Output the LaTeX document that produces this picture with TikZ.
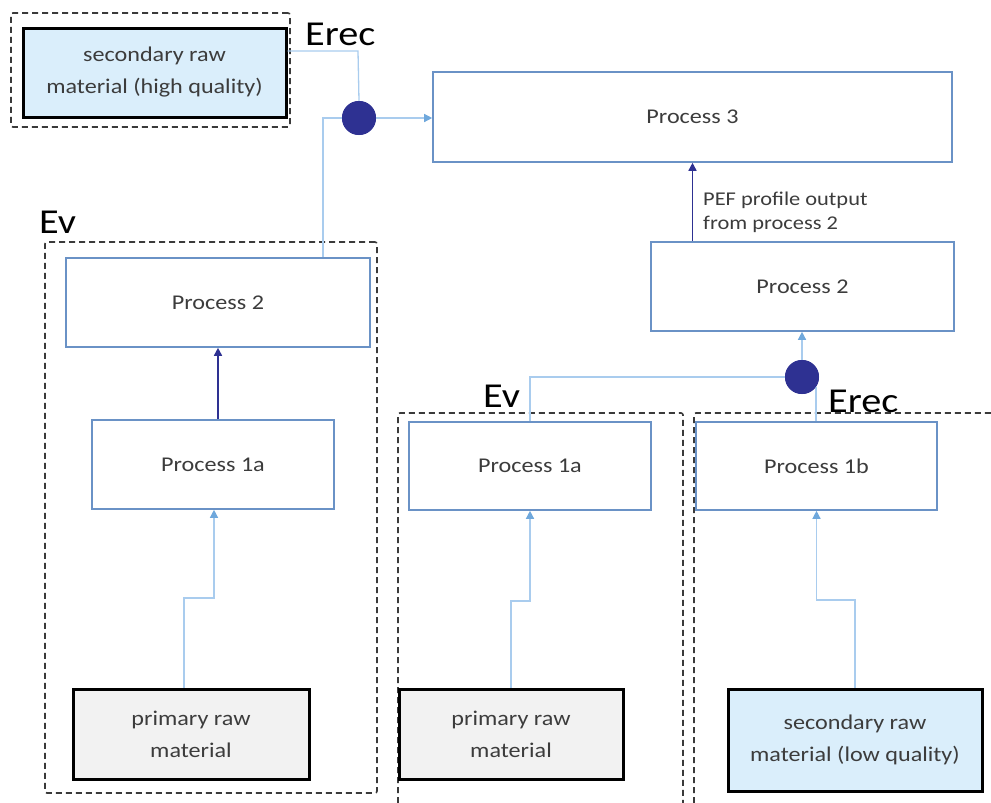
\documentclass[tikz,border=0pt]{standalone}
\usepackage{fontspec}
\setmainfont{Carlito}[FakeStretch=1.15]
\usetikzlibrary{arrows.meta,calc}
\definecolor{procblue}{HTML}{6A92C6}
\definecolor{lightline}{HTML}{A9CCEE}
\definecolor{lighttip}{HTML}{6FA8DC}
\definecolor{darkline}{HTML}{2E3192}
\definecolor{hqfill}{HTML}{DAEEFB}
\definecolor{grayfill}{HTML}{F2F2F2}
\definecolor{txt}{HTML}{3C3C3C}
\definecolor{dashcol}{HTML}{3A3A3A}
\newcommand{\bxf}{\fontsize{21}{32}\selectfont}
\newcommand{\lblf}{\fontsize{35}{40}\selectfont}
\newcommand{\pef}{\fontsize{19.5}{24}\selectfont}
\begin{document}
\begin{tikzpicture}[x=1pt,y=-1pt,
  proc/.style={draw=procblue, line width=1.6pt, fill=white, text=txt, font=\bxf, align=center, inner sep=0pt},
  rawbox/.style={draw=black, line width=3pt, text=txt, font=\bxf, align=center, inner sep=0pt},
  dframe/.style={draw=dashcol, line width=1.6pt, dash pattern=on 6pt off 4pt, rounded corners=2pt},
  dnode/.style={dframe, inner sep=0pt},
  lline/.style={draw=lightline, line width=1.3pt},
  larrow/.style={lline, -{Triangle[length=8pt,width=8pt,color=lighttip]}},
  darrow/.style={draw=darkline, line width=1.6pt, -{Triangle[length=8pt,width=8pt]}},
  hub/.style={circle, fill=darkline, minimum size=34pt, inner sep=0pt},
  elabel/.style={font=\lblf, text=black, inner sep=0pt, anchor=base west}
]
\useasboundingbox (0,0) rectangle (991,803);

% dashed frames
\node[dnode, minimum width=279pt, minimum height=114pt] (hqframe) at (150.5,70) {};
\node[dnode, minimum width=332pt, minimum height=551pt] (evframe) at (211,517.5) {};
\draw[dframe] (398,803) -- (398,413) -- (683,413) -- (683,803);
\draw[dframe] (694,803) -- (694,413) -- (991,413);

% boxes
\node[rawbox, fill=hqfill, minimum width=263pt, minimum height=89pt] (hq) at (154.5,72.5) {secondary raw\\material (high quality)};
\node[proc, minimum width=519pt, minimum height=90pt] (p3) at (692.5,117) {Process 3};
\node[proc, minimum width=304pt, minimum height=89pt] (p2L) at (218,302.5) {Process 2};
\node[proc, minimum width=242pt, minimum height=89pt] (p1aL) at (213,464.5) {Process 1a};
\node[rawbox, fill=grayfill, minimum width=236pt, minimum height=90pt] (primL) at (191,734) {primary raw\\material};
\node[proc, minimum width=303pt, minimum height=89pt] (p2R) at (802.5,286.5) {Process 2};
\node[proc, minimum width=242pt, minimum height=88pt] (p1aM) at (530,466) {Process 1a};
\node[proc, minimum width=241pt, minimum height=88pt] (p1b) at (816.5,466) {Process 1b};
\node[rawbox, fill=grayfill, minimum width=224pt, minimum height=90pt] (primM) at (511,734) {primary raw\\material};
\node[rawbox, fill=hqfill, minimum width=254pt, minimum height=102pt] (lq) at (855,740) {secondary raw\\material (low quality)};

% hubs
\node[hub] (c1) at (359,118) {};
\node[hub] (c2) at (802,377) {};

% labels
\node[elabel] (erec1) at (305,45) {Erec};
\node[elabel] (ev1) at (39,233) {Ev};
\node[elabel] (ev2) at (483,407) {Ev};
\node[elabel] (erec2) at (828,412) {Erec};
\node[font=\pef, text=txt, align=left, anchor=west, inner sep=0pt] (peflbl) at (703,212) {PEF profile output\\from process 2};

% junction coordinates
\coordinate (e1) at (358,51);
\coordinate (e2) at (323,118);
\coordinate (j1) at (214,598);
\coordinate (j2) at (530,601);
\coordinate (j3) at (816.5,600);
\coordinate (a1) at ($(p1aL.north)+(5,0)$);
\coordinate (a2) at ($(primL.north)+(-7,0)$);

% connectors
\draw[lline] (hq.east |- e1) -- (e1) -- (c1.north);
\draw[lline] (e2 |- p2L.north) -- (e2) -- (c1.west);
\draw[larrow] (c1.east) -- (c1.east -| p3.west);
\draw[darrow] (a1) -- (a1 |- p2L.south);
\draw[larrow] (a2) |- (j1) -- (j1 |- p1aL.south);
\draw[darrow] (p3.south |- p2R.north) -- (p3.south);
\draw[larrow] (c2.north) -- (c2.north |- p2R.south);
\draw[lline] (p1aM.north) |- (c2.west);
\draw[lline] (p1b.north -| c2.-35) -- (c2.-35);
\draw[larrow] (primM.north) |- (j2) -- (p1aM.south);
\draw[larrow] (lq.north) |- (j3) -- (p1b.south);

% redraw hubs on top
\node[hub] at (c1) {};
\node[hub] at (c2) {};
\end{tikzpicture}
\end{document}
